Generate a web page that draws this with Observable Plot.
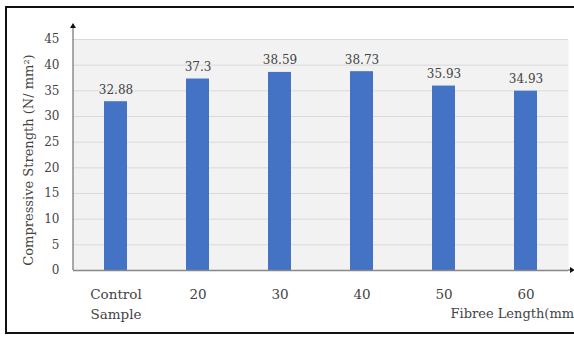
<!DOCTYPE html>
<html>
<head>
<meta charset="utf-8">
<script src="https://cdn.jsdelivr.net/npm/d3@7"></script>
<script src="https://cdn.jsdelivr.net/npm/@observablehq/plot@0.6"></script>
<style>
  html, body { margin: 0; padding: 0; background: #fff; overflow: hidden; }
  #wrap { position: relative; width: 574px; height: 338px; overflow: hidden; }
  #border { position: absolute; left: 5px; top: 6px; width: 600px; height: 328px; border: 2px solid #111; box-sizing: border-box; }
  #chart { position: absolute; left: 0; top: 0; }
  #chart svg { overflow: visible; }
</style>
</head>
<body>
<div id="wrap"><div id="border"></div><div id="chart"></div></div>
<script>
// Compressive strength by fibre length
const categories = ["Control Sample", "20", "30", "40", "50", "60"];
const strength = [32.88, 37.3, 38.59, 38.73, 35.93, 34.93];
const yTicks = [0, 5, 10, 15, 20, 25, 30, 35, 40, 45];
const yTitle = "Compressive Strength (N/ mm²)";
const xTitle = "Fibree Length(mm)";

const data = categories.map((c, i) => ({category: c, value: strength[i]}));
const serif = "'DejaVu Serif', 'Liberation Serif', serif";

const chart = Plot.plot({
  width: 574,
  height: 338,
  marginLeft: 73,
  marginRight: 6,
  marginTop: 39,
  marginBottom: 68,
  style: {fontFamily: serif, fontSize: "12px", color: "#444", background: "transparent"},
  x: {domain: categories, paddingInner: 0.72, paddingOuter: 0.36, label: null},
  y: {domain: [0, 45], label: null},
  marks: [
    Plot.frame({fill: "#f2f2f2", stroke: null}),
    Plot.gridY(yTicks, {stroke: "#dadada", strokeOpacity: 1}),
    Plot.barY(data, {x: "category", y: "value", fill: "#4472c4"}),
    Plot.text(data, {x: "category", y: "value", text: d => String(d.value), dy: -12, fill: "#444", fontSize: 12}),
    Plot.axisY(yTicks, {tickSize: 0, tickPadding: 14, fontSize: 12, fill: "#444"}),
    Plot.axisX({tickSize: 0, tickPadding: 15, fontSize: 13.5, fill: "#444", lineHeight: 1.45,
      tickFormat: d => d === "Control Sample" ? "Control\nSample" : d}),
    Plot.ruleY([0], {stroke: "#888", strokeWidth: 1.5}),
    Plot.text([yTitle], {frameAnchor: "left", textAnchor: "middle", rotate: -90, dx: -45, dy: 5, fontSize: 13, fill: "#444"}),
    Plot.text([xTitle], {frameAnchor: "bottom-right", textAnchor: "start", dx: -118, dy: 47, fontSize: 13, fill: "#444"})
  ]
});

document.getElementById("chart").appendChild(chart);

// Axis lines with arrowheads
const svg = d3.select(chart);
const xs = chart.scale("x"), ys = chart.scale("y");
const x0 = xs.range[0], x1 = xs.range[1];
const y0 = ys.apply(0), yTop = ys.apply(45);
const g = svg.append("g");
g.append("line").attr("x1", x0).attr("x2", x0).attr("y1", y0).attr("y2", yTop - 13)
  .attr("stroke", "#555").attr("stroke-width", 1);
g.append("path").attr("d", `M${x0 - 3},${yTop - 11}L${x0},${yTop - 16}L${x0 + 3},${yTop - 11}Z`).attr("fill", "#111");
g.append("line").attr("x1", x1).attr("x2", x1 + 2).attr("y1", y0).attr("y2", y0)
  .attr("stroke", "#888").attr("stroke-width", 1.5);
g.append("path").attr("d", `M${x1 + 2},${y0 - 3}L${x1 + 7},${y0}L${x1 + 2},${y0 + 3}Z`).attr("fill", "#111");
</script>
</body>
</html>
